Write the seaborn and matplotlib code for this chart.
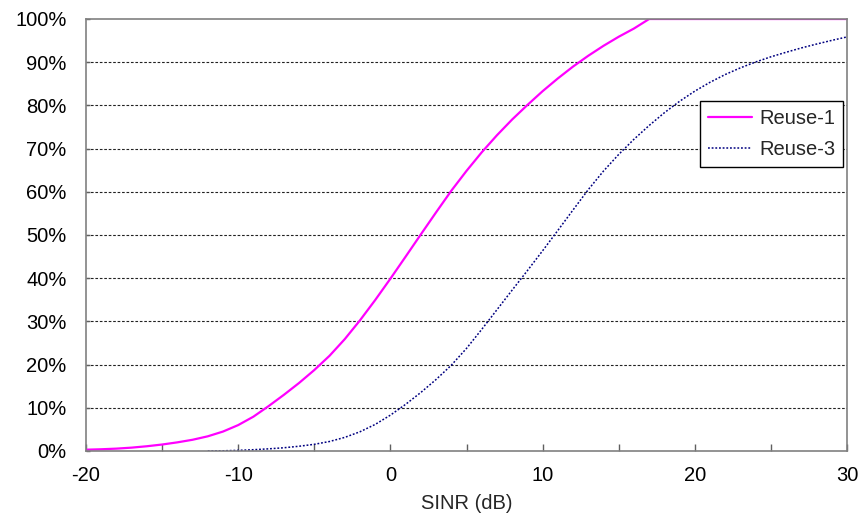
import pandas as pd
import matplotlib
matplotlib.use("Agg")
import matplotlib.pyplot as plt
from matplotlib.ticker import MultipleLocator, FuncFormatter
import seaborn as sns

# SINR grids (dB) and CDF values (%) for each reuse scheme
sinr_reuse1 = list(range(-20, 31))
reuse1_cdf = [0.3, 0.4, 0.55, 0.78, 1.1, 1.5, 2.0, 2.6, 3.4, 4.5,
              6.0, 7.95, 10.4, 13.0, 15.75, 18.74, 22.04, 25.89, 30.24, 34.94,
              39.89, 44.99, 50.14, 55.24, 60.24, 64.84, 69.14, 73.09, 76.74, 80.09,
              83.29, 86.24, 88.99, 91.49, 93.79, 95.89, 97.79, 100.0, 100.0, 100.0,
              100.0, 100.0, 100.0, 100.0, 100.0, 100.0, 100.0, 100.0, 100.0, 100.0,
              100.0]
sinr_reuse3 = list(range(-12, 31))
reuse3_cdf = [0.0, 0.05, 0.15, 0.3, 0.5, 0.75, 1.1, 1.55, 2.2, 3.15,
              4.45, 6.15, 8.3, 10.8, 13.55, 16.55, 19.85, 23.75, 28.15, 32.7,
              37.25, 41.75, 46.35, 51.05, 55.8, 60.5, 64.8, 68.65, 72.15, 75.35,
              78.3, 80.95, 83.3, 85.35, 87.15, 88.7, 90.05, 91.25, 92.3, 93.3,
              94.2, 95.05, 95.85]
series_names = ["Reuse-1", "Reuse-3"]
x_ticks = [-20, -10, 0, 10, 20, 30]

df = pd.DataFrame({
    "SINR (dB)": sinr_reuse1 + sinr_reuse3,
    "CDF": reuse1_cdf + reuse3_cdf,
    "Scheme": [series_names[0]] * len(sinr_reuse1) + [series_names[1]] * len(sinr_reuse3),
})

sns.set_style("white")
plt.rcParams["font.family"] = ["Liberation Sans", "DejaVu Sans"]
plt.rcParams["axes.unicode_minus"] = False

FS = 14.5
fig = plt.figure(figsize=(8.61, 5.21), dpi=100)
ax = fig.add_axes([86 / 861, 70 / 521, 761 / 861, 432 / 521])

palette = {"Reuse-1": "#ff00ff", "Reuse-3": "#000080"}
sns.lineplot(data=df, x="SINR (dB)", y="CDF", hue="Scheme", palette=palette,
             ax=ax, legend=False)
lines = ax.get_lines()
lines[0].set_linewidth(1.6)
lines[0].set_solid_joinstyle("round")
lines[1].set_linewidth(1.1)
lines[1].set_linestyle((0, (1.2, 1.2)))

ax.set_xlim(-20, 30)
ax.set_ylim(0, 100)
ax.set_xticks(x_ticks)
ax.xaxis.set_minor_locator(MultipleLocator(5))
ax.yaxis.set_major_locator(MultipleLocator(10))
ax.yaxis.set_major_formatter(FuncFormatter(lambda v, _: f"{v:.0f}%"))

for y in range(10, 100, 10):
    ax.axhline(y, color="#222222", lw=0.8, ls=(0, (2.4, 1.6)), zorder=0)

for s in ax.spines.values():
    s.set_color("#808080")
    s.set_linewidth(1.2)

ax.tick_params(axis="both", which="both", direction="in", colors="#606060",
               labelcolor="black", labelsize=FS)
ax.tick_params(axis="x", which="major", length=5, width=1, pad=11, bottom=True)
ax.tick_params(axis="x", which="minor", length=5, width=1, bottom=True)
ax.tick_params(axis="y", which="major", length=3, width=1, left=True, pad=14)

ax.set_xlabel("SINR (dB)", fontsize=FS, labelpad=6)
ax.set_ylabel("")

handles = [plt.Line2D([], [], color="#ff00ff", lw=1.6),
           plt.Line2D([], [], color="#000080", lw=1.1, ls=(0, (1.2, 1.2)))]
leg = ax.legend(handles, series_names, loc="upper right",
                bbox_to_anchor=(0.995, 0.81), fontsize=FS, frameon=True,
                fancybox=False, edgecolor="black", framealpha=1,
                handlelength=2.2, borderpad=0.4, labelspacing=0.6,
                handletextpad=0.35, borderaxespad=0)
leg.get_frame().set_linewidth(1.0)

fig.savefig("out.png", dpi=100)
